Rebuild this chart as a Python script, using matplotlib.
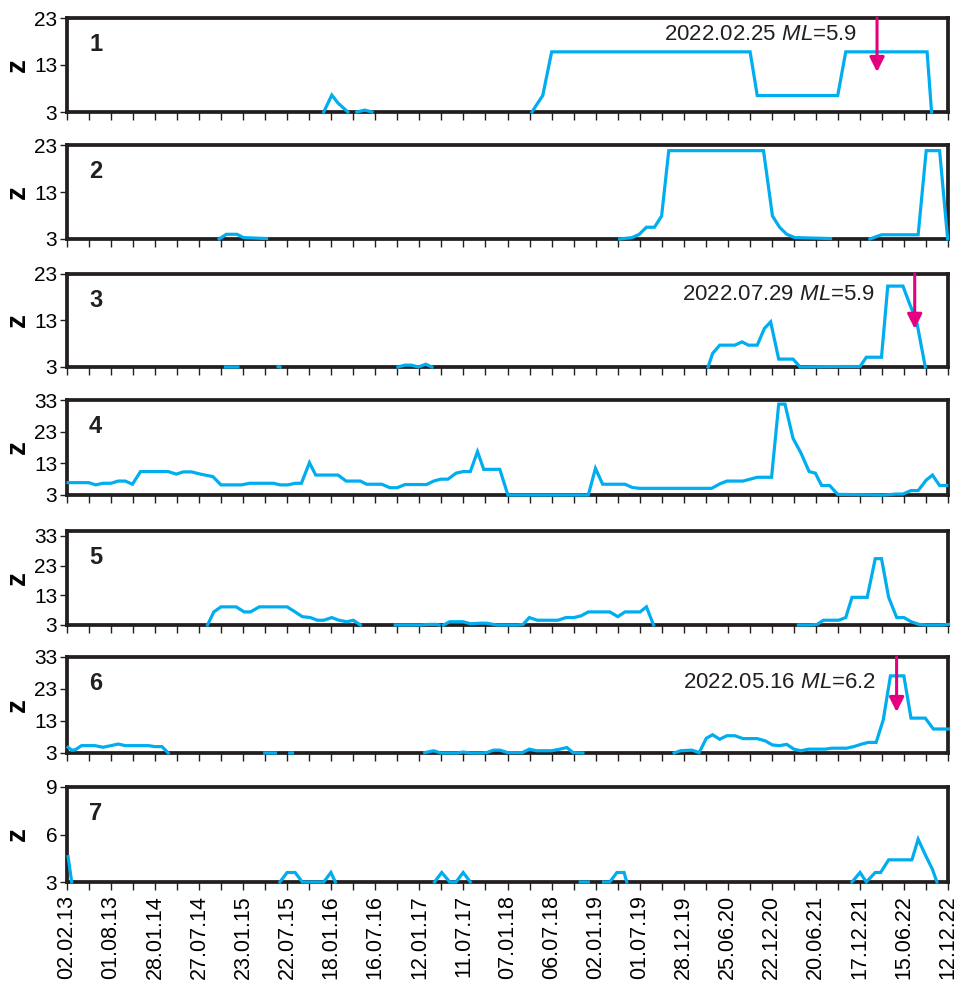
import numpy as np
import matplotlib
matplotlib.use("Agg")
import matplotlib.pyplot as plt
import matplotlib.dates as mdates
from datetime import datetime, timedelta

plt.rcParams['font.family'] = ['Liberation Sans', 'DejaVu Sans']
plt.rcParams['mathtext.fontset'] = 'custom'
plt.rcParams['mathtext.rm'] = 'Liberation Sans'
plt.rcParams['mathtext.it'] = 'Liberation Sans:italic'

# ---------------- DATA (x in decimal years, nan = gap) ----------------
x1 = [2015.96, 2016.05, 2016.12, 2016.23, np.nan, 2016.33, 2016.42, 2016.50, np.nan,
      2018.29, 2018.34, 2018.41, 2018.51, 2020.73, 2020.81, 2021.71, 2021.80, 2022.71, 2022.76]
z1 = [3, 6.6, 4.9, 3, np.nan, 3, 3.4, 3, np.nan,
      3, 4.5, 6.5, 15.8, 15.8, 6.5, 6.5, 15.8, 15.8, 3]

x2 = [2014.79, 2014.87, 2014.99, 2015.06, 2015.32, np.nan,
      2019.27, 2019.41, 2019.49, 2019.57, 2019.66, 2019.74, 2019.82, 2020.88, 2020.98,
      2021.06, 2021.14, 2021.23, 2021.63, np.nan,
      2022.07, 2022.20, 2022.61, 2022.70, 2022.85, 2022.94]
z2 = [3, 4, 4, 3.3, 3.1, np.nan,
      3, 3.3, 4, 5.5, 5.5, 7.9, 21.8, 21.8, 7.9, 5.5, 4, 3.3, 3.1, np.nan,
      3, 3.9, 3.9, 21.8, 21.8, 3]

x3 = [2014.86, 2015.00, np.nan, 2015.45, 2015.47, np.nan,
      2016.79, 2016.87, 2016.94, 2017.02, 2017.10, 2017.17, np.nan,
      2020.26, 2020.31, 2020.39, 2020.56, 2020.64, 2020.71, 2020.81, 2020.89, 2020.96,
      2021.05, 2021.21, 2021.29, 2021.70, 2021.96, 2022.03, 2022.20, 2022.27, 2022.44,
      2022.52, 2022.59, 2022.69]
z3 = [3, 3, np.nan, 3.1, 3, np.nan,
      3, 3.4, 3.4, 3, 3.6, 3, np.nan,
      3, 5.9, 7.7, 7.7, 8.4, 7.7, 7.7, 11.3, 12.7,
      4.7, 4.7, 3, 3.1, 3.1, 5.1, 5.1, 20.4, 20.4,
      16.3, 13.1, 3]

x4 = [2013.10, 2013.33, 2013.41, 2013.49, 2013.58, 2013.66, 2013.74, 2013.82, 2013.91,
      2014.22, 2014.31, 2014.39, 2014.48, 2014.58, 2014.72, 2014.81, 2015.04, 2015.13,
      2015.40, 2015.47, 2015.56, 2015.64, 2015.71, 2015.80, 2015.87, 2016.12, 2016.21,
      2016.37, 2016.44, 2016.61, 2016.70, 2016.78, 2016.87, 2017.11, 2017.19, 2017.27,
      2017.35, 2017.44, 2017.52, 2017.60, 2017.68, 2017.75, 2017.93, 2018.02, 2018.92,
      2019.00, 2019.08, 2019.33, 2019.41, 2019.49, 2020.30, 2020.39, 2020.47, 2020.65,
      2020.73, 2020.81, 2020.97, 2021.05, 2021.12, 2021.21, 2021.30, 2021.39, 2021.46,
      2021.53, 2021.62, 2021.71, 2022.22, 2022.37, 2022.44, 2022.53, 2022.61, 2022.70,
      2022.77, 2022.85, 2022.93]
z4 = [6.9, 6.9, 6.2, 6.7, 6.7, 7.4, 7.4, 6.4, 10.4,
      10.4, 9.6, 10.3, 10.3, 9.6, 8.8, 6.2, 6.2, 6.7,
      6.7, 6.2, 6.2, 6.7, 6.7, 13.2, 9.3, 9.3, 7.4,
      7.4, 6.4, 6.4, 5.3, 5.3, 6.3, 6.3, 7.4, 8.0,
      8.0, 9.9, 10.4, 10.4, 16.7, 11.1, 11.1, 3, 3,
      11.4, 6.4, 6.4, 5.4, 5.1, 5.1, 6.5, 7.4, 7.4,
      8.0, 8.6, 8.6, 31.7, 31.7, 20.9, 16.2, 10.4, 9.9,
      6.0, 6.0, 3.2, 3, 3.3, 3.3, 4.4, 4.4, 7.7,
      9.3, 6.0, 6.0]

x5 = [2014.66, 2014.73, 2014.81, 2014.98, 2015.07, 2015.14, 2015.24, 2015.55, 2015.64,
      2015.72, 2015.81, 2015.89, 2015.96, 2016.05, 2016.13, 2016.22, 2016.29, 2016.37, np.nan,
      2016.76, 2017.04, 2017.13, 2017.22, 2017.25, np.nan,
      2017.30, 2017.37, 2017.52, 2017.60, 2017.71, 2017.78, 2017.90, 2018.12, 2018.19,
      2018.26, 2018.35, 2018.58, 2018.67, 2018.76, 2018.84, 2018.92, 2019.16, 2019.25,
      2019.33, 2019.50, 2019.57, 2019.65, np.nan,
      2021.27, 2021.40, 2021.48, 2021.55, 2021.72, 2021.80, 2021.87, 2022.04, 2022.13,
      2022.20, 2022.28, 2022.37, 2022.45, 2022.54, 2022.62, 2022.71, 2022.87, 2022.95]
z5 = [3, 7.4, 9.1, 9.1, 7.4, 7.4, 9.1, 9.1, 7.4,
      5.8, 5.5, 4.6, 4.6, 5.5, 4.6, 4.1, 4.6, 3, np.nan,
      3, 3, 3.2, 3.2, 3, np.nan,
      3, 4.1, 4.1, 3.4, 3.6, 3.6, 3, 3, 3.2,
      5.5, 4.6, 4.6, 5.5, 5.5, 6.1, 7.4, 7.4, 5.8,
      7.4, 7.4, 9.1, 3, np.nan,
      3, 3, 3.2, 4.6, 4.6, 5.5, 12.3, 12.3, 25.3,
      25.3, 12.3, 5.5, 5.5, 4.0, 3.2, 3, 3, 3.2]

x6 = [2013.10, 2013.14, 2013.18, 2013.25, 2013.40, 2013.49, 2013.58, 2013.66, 2013.74,
      2014.00, 2014.07, 2014.15, 2014.22, np.nan, 2015.30, 2015.42, np.nan, 2015.58, 2015.61, np.nan,
      2017.09, 2017.19, 2017.27, 2017.45, 2017.52, 2017.60, 2017.71, 2017.78, 2017.86,
      2017.93, 2018.02, 2018.18, 2018.26, 2018.34, 2018.51, 2018.60, 2018.68, 2018.75,
      2018.86, np.nan,
      2019.88, 2019.95, 2020.08, 2020.16, 2020.24, 2020.31, 2020.39, 2020.47, 2020.56,
      2020.65, 2020.81, 2020.90, 2020.98, 2021.06, 2021.14, 2021.22, 2021.30, 2021.38,
      2021.57, 2021.64, 2021.81, 2021.89, 2021.98, 2022.05, 2022.14, 2022.22, 2022.30,
      2022.45, 2022.53, 2022.69, 2022.78, 2022.95]
z6 = [4.8, 3.9, 4.0, 5.3, 5.3, 4.8, 5.3, 5.8, 5.3,
      5.3, 5.0, 5.0, 3, np.nan, 3, 3, np.nan, 3, 3, np.nan,
      3.1, 3.7, 3, 3, 3.3, 3, 3, 3.1, 3.9,
      3.9, 3.1, 3.1, 4.2, 3.7, 3.7, 4.2, 4.7, 3.1,
      3, np.nan,
      3, 3.7, 3.9, 3.1, 7.6, 8.7, 7.3, 8.4, 8.4,
      7.5, 7.5, 6.8, 5.5, 5.3, 5.7, 4.2, 3.7, 4.2,
      4.2, 4.5, 4.5, 5.0, 5.8, 6.3, 6.3, 13.4, 27.1,
      27.1, 13.9, 13.9, 10.5, 10.5]

x7 = [2013.10, 2013.14, np.nan,
      2015.47, 2015.55, 2015.64, 2015.72, 2015.96, 2016.04, 2016.09, np.nan,
      2017.20, 2017.28, 2017.37, 2017.44, 2017.52, 2017.60, np.nan,
      2018.83, 2018.92, np.nan,
      2019.09, 2019.16, 2019.24, 2019.32, 2019.35, np.nan,
      2021.87, 2021.96, 2022.03, 2022.13, 2022.19, 2022.28, 2022.54, 2022.61, 2022.70,
      2022.77, 2022.82]
z7 = [4.6, 3, np.nan,
      3, 3.6, 3.6, 3, 3, 3.6, 3, np.nan,
      3, 3.6, 3, 3, 3.6, 3, np.nan,
      3, 3, np.nan,
      3, 3, 3.6, 3.6, 3, np.nan,
      3, 3.6, 3, 3.6, 3.6, 4.4, 4.4, 5.7, 4.6,
      3.8, 3]

series = [(x1, z1), (x2, z2), (x3, z3), (x4, z4), (x5, z5), (x6, z6), (x7, z7)]
ylims = [(3, 23), (3, 23), (3, 23), (3, 33), (3, 34.6), (3, 33), (3, 9)]
yticks = [[3, 13, 23], [3, 13, 23], [3, 13, 23], [3, 13, 23, 33],
          [3, 13, 23, 33], [3, 13, 23, 33], [3, 6, 9]]

# earthquakes marked with arrows: panel, date, ML, arrow tip value
eq_panels = [0, 2, 5]
eq_dates = ["2022.02.25", "2022.07.29", "2022.05.16"]
eq_ml = ["5.9", "5.9", "6.2"]
eq_tip = [11.5, 11.2, 15.8]

# ---------------- AXES LAYOUT ----------------
start = datetime(2013, 2, 2)
d0 = mdates.date2num(start)
ndays = 3600
line_col = '#00aeef'
frame_col = '#231f20'
arrow_col = '#e4007f'
narrow = ['Liberation Sans Narrow', 'Liberation Sans', 'DejaVu Sans']

fig = plt.figure(figsize=(9.6, 9.92), dpi=100)
tops = [18, 145, 274, 400, 531, 657, 787]
heights = [94, 94, 93, 95, 94, 96, 95]
axes = []
for top, h in zip(tops, heights):
    axes.append(fig.add_axes([67 / 960, 1 - (top + h) / 992, 881 / 960, h / 992]))

major = [d0 + k * 180 for k in range(21)]
minor = [d0 + 90 + k * 180 for k in range(20)]
labels = [(start + timedelta(days=180 * k)).strftime('%d.%m.%y') for k in range(21)]

for i, ax in enumerate(axes):
    x, z = series[i]
    xn = d0 + (np.array(x, dtype=float) - 2013.0877) * 365.25
    ax.plot(xn, z, color=line_col, lw=2.3, zorder=3, clip_on=False,
            solid_joinstyle='miter')
    ax.set_xlim(d0, d0 + ndays)
    ax.set_ylim(*ylims[i])
    ax.set_yticks(yticks[i])
    ax.set_yticklabels([str(t) for t in yticks[i]], family=narrow, fontsize=15)
    for s in ax.spines.values():
        s.set_linewidth(2.7)
        s.set_color(frame_col)
    ax.set_xticks(major)
    ax.set_xticks(minor, minor=True)
    ax.tick_params(axis='x', which='both', length=6, width=1, color=frame_col)
    ax.tick_params(axis='y', length=5, width=1, color=frame_col, pad=2)
    if i == 6:
        ax.set_xticklabels(labels, rotation=90, fontsize=15.5)
    else:
        ax.set_xticklabels([])
    ax.set_ylabel('z', fontsize=20, fontweight='bold')
    ax.yaxis.set_label_coords(-0.041, 0.5)
    ax.text(0.025, 0.72, str(i + 1), transform=ax.transAxes, fontsize=17,
            fontweight='bold', va='center', ha='left', color=frame_col)

# ---------------- EVENT ARROWS ----------------
text_x = [0.897, 0.917, 0.918]
text_y = [0.82, 0.775, 0.73]
for j, p in enumerate(eq_panels):
    ax = axes[p]
    dt = datetime.strptime(eq_dates[j], '%Y.%m.%d')
    xd = mdates.date2num(dt)
    ax.annotate('', xy=(xd, eq_tip[j]), xytext=(xd, ylims[p][1]),
                arrowprops=dict(arrowstyle='-|>', color=arrow_col, lw=2.2,
                                mutation_scale=22, shrinkA=0, shrinkB=0),
                zorder=5)
    ax.text(text_x[j], text_y[j], eq_dates[j] + r' $\mathit{ML}$=' + eq_ml[j],
            transform=ax.transAxes, ha='right', va='center', fontsize=16,
            color=frame_col)

fig.savefig('out.png', dpi=100)
